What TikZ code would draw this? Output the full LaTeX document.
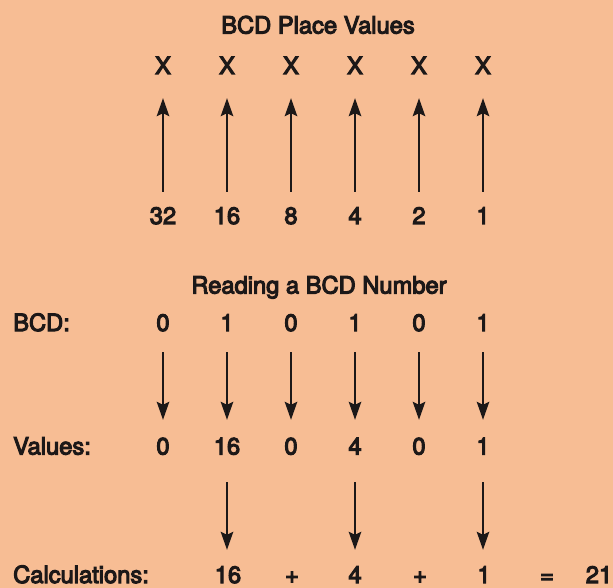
\documentclass[tikz,border=0pt]{standalone}
\usepackage{fontspec}
\setmainfont{TeX Gyre Heros}
\newfontfamily\heavysans{TeX Gyre Heros}[FakeBold=4.5]
\usetikzlibrary{arrows.meta}
\definecolor{paper}{RGB}{247,189,148}
\definecolor{ink}{RGB}{28,24,24}

\begin{document}
\begin{tikzpicture}[x=1pt, y=-1pt,
    txt/.style={inner sep=0pt, text height=17pt, text depth=0pt, text=ink,
        font=\heavysans\fontsize{23.7}{28}\selectfont},
    arr/.style={draw=ink, line width=1.9pt,
        -{Stealth[length=18pt, width=12.5pt, inset=3pt]}}]

    \fill[paper] (0,0) rectangle (613,588);
    \useasboundingbox (0,0) rectangle (613,588);

    % place values
    \node[txt] (title1) at (318,25) {BCD Place Values};
    \foreach \v [count=\i] in {32,16,8,4,2,1} {
        \pgfmathsetmacro\cx{99+64*\i}
        \node[txt] (x\i) at (\cx,65.5) {X};
        \node[txt] (pv\i) at (\cx,215.5) {\v};
        \draw[arr, shorten <=15pt, shorten >=24pt] (pv\i.north) -- (x\i.south);
    }

    % reading a number
    \node[txt] (title2) at (319,285) {Reading a BCD Number};
    \node[txt, anchor=west] (bcdlbl) at (13,322.5) {BCD:};
    \node[txt, anchor=west] (vallbl) at (13,446) {Values:};
    \node[txt, anchor=west] (calclbl) at (13,574.5) {Calculations:};
    \foreach \b/\v [count=\i] in {0/0,1/16,0/0,1/4,0/0,1/1} {
        \pgfmathsetmacro\cx{99+64*\i}
        \node[txt] (b\i) at (\cx,322.5) {\b};
        \node[txt] (v\i) at (\cx,446) {\v};
        \draw[arr, shorten <=21pt, shorten >=17.5pt] (b\i.south) -- (v\i.north);
    }

    % the sum
    \node[txt] (c2) at (228,574.5) {16};
    \node[txt] (plus1) at (292,574.5) {+};
    \node[txt] (c4) at (355,574.5) {4};
    \node[txt] (plus2) at (420,574.5) {+};
    \node[txt] (c6) at (484,574.5) {1};
    \node[txt] (eq) at (547,574.5) {=};
    \node[txt] (total) at (599,574.5) {21};
    \foreach \i in {2,4,6}
        \draw[arr, shorten <=27.5pt, shorten >=16pt] (v\i.south) -- (v\i.south |- c\i.north);

\end{tikzpicture}
\end{document}
